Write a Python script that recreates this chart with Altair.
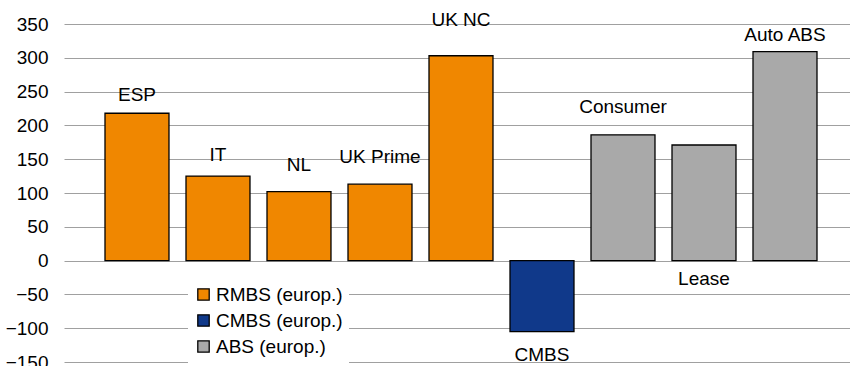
import altair as alt
import pandas as pd

categories = ["ESP", "IT", "NL", "UK Prime", "UK NC", "CMBS", "Consumer", "Lease", "Auto ABS"]
values = [218, 125, 102, 113, 303, -105, 186, 171, 309]
groups = ["RMBS (europ.)"] * 5 + ["CMBS (europ.)"] + ["ABS (europ.)"] * 3
# label anchor positions on the value axis (as placed in the original chart)
label_at = [245, 156, 141, 153, 356, -139, 227, -27, 334]

group_order = ["RMBS (europ.)", "CMBS (europ.)", "ABS (europ.)"]
group_colors = ["#F08700", "#10398A", "#A9A9A9"]
y_ticks = [-150, -100, -50, 0, 50, 100, 150, 200, 250, 300, 350]

df = pd.DataFrame({"cat": categories, "value": values, "group": groups, "label_at": label_at})

FONT = "Liberation Sans"
FS = 19

x = alt.X("cat:N", sort=categories, axis=None,
          scale=alt.Scale(paddingInner=0.21, paddingOuter=0.4568, align=0.554))
y_scale = alt.Scale(domain=[-150, 350], nice=False, zero=True)
y_axis = alt.Axis(values=y_ticks, title=None, domain=False, ticks=False,
                  grid=True, gridColor="#A0A0A0", gridWidth=1,
                  labelFont=FONT, labelFontSize=FS, labelColor="black",
                  labelPadding=16, labelOverlap=False, labelBound=False)

bars = alt.Chart(df).mark_bar(stroke="black", strokeWidth=1.3).encode(
    x=x,
    y=alt.Y("value:Q", scale=y_scale, axis=y_axis),
    color=alt.Color("group:N", sort=group_order,
                    scale=alt.Scale(domain=group_order, range=group_colors),
                    legend=alt.Legend(title=None, orient="none", legendX=124, legendY=255,
                                      padding=6, fillColor="white",
                                      symbolType="square", symbolSize=130,
                                      symbolStrokeColor="black", symbolStrokeWidth=1.3,
                                      labelFont=FONT, labelFontSize=FS, labelColor="black",
                                      labelOffset=3, rowPadding=6)),
)

labels = alt.Chart(df).mark_text(font=FONT, fontSize=FS, color="black", baseline="middle").encode(
    x=x,
    y=alt.Y("label_at:Q", scale=y_scale, axis=y_axis),
    text="cat:N",
)

chart = alt.layer(bars, labels).properties(
    width=786, height=338,
    padding={"left": 64, "top": 24, "right": 0, "bottom": 4},
    autosize="none",
).configure_view(stroke=None).configure_axis(labelFont=FONT, labelOverlap=False)

chart.save("out.html", embed_options={"renderer": "svg", "actions": False})
